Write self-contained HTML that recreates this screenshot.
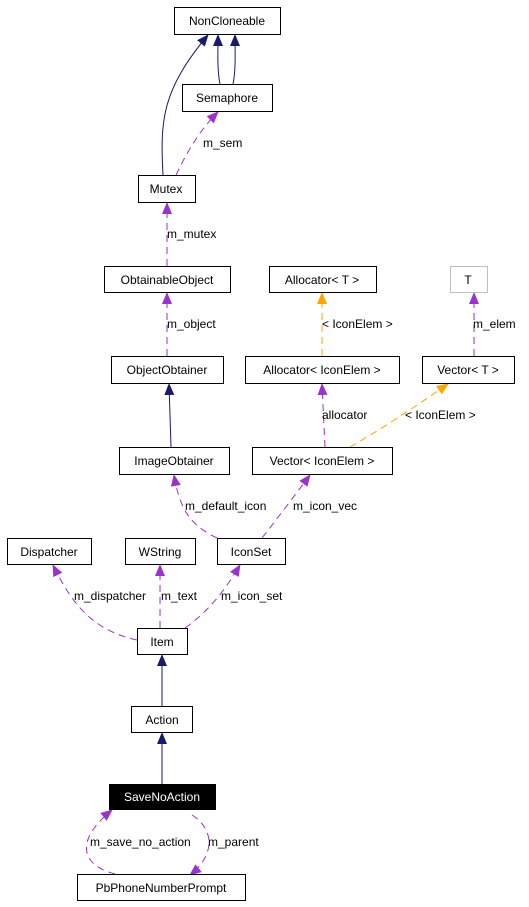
<!DOCTYPE html>
<html><head><style>
body{margin:0;background:#fff;width:529px;height:907px;overflow:hidden}
svg{position:absolute;left:0;top:0}
text{font-family:"Liberation Sans",sans-serif;font-size:12px}
</style></head><body>
<svg width="529" height="907" viewBox="0 0 529 907">
<defs>
<marker id="n" markerWidth="12" markerHeight="10" refX="11" refY="5" orient="auto" markerUnits="userSpaceOnUse"><path d="M0,0L12,5L0,10z" fill="#191970"/></marker>
<marker id="p" markerWidth="12" markerHeight="10" refX="11" refY="5" orient="auto" markerUnits="userSpaceOnUse"><path d="M0,0L12,5L0,10z" fill="#9a32cd"/></marker>
<marker id="o" markerWidth="12" markerHeight="10" refX="11" refY="5" orient="auto" markerUnits="userSpaceOnUse"><path d="M0,0L12,5L0,10z" fill="#ffa500"/></marker>
</defs>
<g fill="none" stroke="#191970" stroke-width="1">
<path d="M163,175 C160,120 162,90 208,35" marker-end="url(#n)"/>
<path d="M220,84 C217,70 218,50 218,35" marker-end="url(#n)"/>
<path d="M233,84 C236,70 235,50 235,35" marker-end="url(#n)"/>
<path d="M171,447 L169,384" marker-end="url(#n)"/>
<path d="M162,706 L162,655" marker-end="url(#n)"/>
<path d="M162,784 L162,733" marker-end="url(#n)"/>
</g>
<g fill="none" stroke="#9a32cd" stroke-width="1" stroke-dasharray="7,5">
<path d="M176,175 C188,150 200,130 218,112" marker-end="url(#p)"/>
<path d="M167,266 L167,203" marker-end="url(#p)"/>
<path d="M167,356 L167,293" marker-end="url(#p)"/>
<path d="M474,356 L474,293" marker-end="url(#p)"/>
<path d="M325,447 L322,384" marker-end="url(#p)"/>
<path d="M217,538 C190,525 180,510 174,475" marker-end="url(#p)"/>
<path d="M262,538 C280,515 295,495 310,475" marker-end="url(#p)"/>
<path d="M137,640 C90,630 70,600 53,565" marker-end="url(#p)"/>
<path d="M160,628 L160,565" marker-end="url(#p)"/>
<path d="M185,628 C210,610 225,590 240,565" marker-end="url(#p)"/>
<path d="M115,874 C80,865 75,840 112,810" marker-end="url(#p)"/>
<path d="M192,815 C215,830 215,855 190,875" marker-end="url(#p)"/>
</g>
<g fill="none" stroke="#ffa500" stroke-width="1" stroke-dasharray="7,5">
<path d="M322,356 L322,293" marker-end="url(#o)"/>
<path d="M350,447 C380,430 410,410 448,384" marker-end="url(#o)"/>
</g>
<g fill="#fff" stroke="#000" stroke-width="1">
<rect x="174.5" y="7.5" width="106" height="27"/>
<rect x="182.5" y="84.5" width="90" height="27"/>
<rect x="138.5" y="175.5" width="57" height="27"/>
<rect x="104.5" y="266.5" width="126" height="26"/>
<rect x="269.5" y="266.5" width="107" height="26"/>
<rect x="450.5" y="266.5" width="37" height="26" stroke="#bfbfbf"/>
<rect x="111.5" y="356.5" width="112" height="27"/>
<rect x="245.5" y="356.5" width="154" height="27"/>
<rect x="422.5" y="356.5" width="92" height="27"/>
<rect x="119.5" y="447.5" width="110" height="27"/>
<rect x="252.5" y="447.5" width="140" height="27"/>
<rect x="7.5" y="538.5" width="84" height="26"/>
<rect x="125.5" y="538.5" width="70" height="26"/>
<rect x="217.5" y="538.5" width="68" height="26"/>
<rect x="137.5" y="628.5" width="50" height="26"/>
<rect x="131.5" y="706.5" width="61" height="26"/>
<rect x="109.5" y="784.5" width="106" height="25" fill="#000"/>
<rect x="77.5" y="874.5" width="168" height="26"/>
</g>
<g text-anchor="middle">
<text x="227" y="25">NonCloneable</text>
<text x="227" y="102">Semaphore</text>
<text x="166" y="193">Mutex</text>
<text x="167" y="284">ObtainableObject</text>
<text x="322" y="284">Allocator&lt; T &gt;</text>
<text x="468" y="284">T</text>
<text x="167" y="374">ObjectObtainer</text>
<text x="322" y="374">Allocator&lt; IconElem &gt;</text>
<text x="468" y="374">Vector&lt; T &gt;</text>
<text x="174" y="465">ImageObtainer</text>
<text x="322" y="465">Vector&lt; IconElem &gt;</text>
<text x="49" y="556">Dispatcher</text>
<text x="160" y="556">WString</text>
<text x="251" y="556">IconSet</text>
<text x="162" y="646">Item</text>
<text x="162" y="724">Action</text>
<text x="162" y="801" fill="#fff">SaveNoAction</text>
<text x="161" y="892">PbPhoneNumberPrompt</text>
</g>
<g>
<text x="203" y="147">m_sem</text>
<text x="167" y="238">m_mutex</text>
<text x="167" y="328">m_object</text>
<text x="322" y="328">&lt; IconElem &gt;</text>
<text x="473" y="328">m_elem</text>
<text x="322" y="419">allocator</text>
<text x="405" y="419">&lt; IconElem &gt;</text>
<text x="185" y="510">m_default_icon</text>
<text x="293" y="510">m_icon_vec</text>
<text x="74" y="600">m_dispatcher</text>
<text x="161" y="600">m_text</text>
<text x="221" y="600">m_icon_set</text>
<text x="90" y="846">m_save_no_action</text>
<text x="208" y="846">m_parent</text>
</g>
</svg>
</body></html>
